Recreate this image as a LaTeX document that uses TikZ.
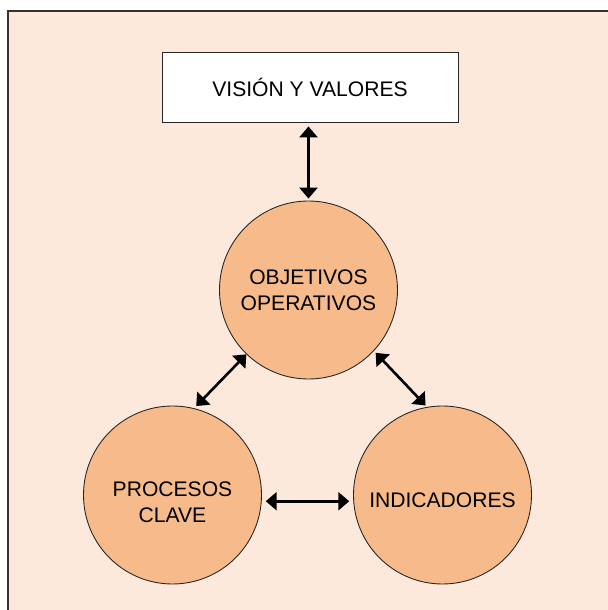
\documentclass[tikz,border=0pt]{standalone}
\usepackage{fontspec}
\setmainfont{Liberation Sans}
\usetikzlibrary{arrows.meta}

\definecolor{fondo}{RGB}{252,233,220}
\definecolor{salmon}{RGB}{247,186,138}

\tikzset{
  circ/.style={circle, draw=black!85, line width=0.5pt, fill=salmon, minimum size=3.56cm,
    inner sep=0pt, align=center, font=\fontsize{12}{15}\selectfont},
  boxnode/.style={rectangle, draw=black!85, line width=0.5pt, fill=white, minimum width=5.92cm,
    minimum height=1.4cm, font=\fontsize{12}{15}\selectfont},
  dbl/.style={{Triangle[length=0.22cm,width=0.36cm]}-{Triangle[length=0.22cm,width=0.36cm]}, line width=1.5pt},
}

\begin{document}
\begin{tikzpicture}
    \useasboundingbox (0,0) rectangle (12.16,12.2);
    % fondo del marco
    \begin{scope}
        \clip (0,0) rectangle (12.16,12.2);
        \draw [fill=fondo, draw=black!80, line width=0.6pt] (0.16,-1) rectangle (13,11.98);
    \end{scope}

    \node (vis) [boxnode] at (6.2,10.46) {VISIÓN Y VALORES};

    \node (obj) [circ] at (6.17,6.4) {OBJETIVOS\\OPERATIVOS};
    \node (proc) [circ, text height=31.5pt, text depth=0pt] at (3.45,2.3) {PROCESOS\\CLAVE};
    \node (ind) [circ, text height=13.7pt, text depth=0pt] at (8.85,2.3) {INDICADORES};

    \path [dbl]
        (vis.south -| obj.north) edge [shorten <=0.08cm, shorten >=0.04cm] (obj.north)
        (obj.226) edge [shorten >=0.06cm] (proc.76)
        (obj.-43.5) edge [shorten <=0.05cm, shorten >=0.04cm] (ind.100)
        (proc.-4) edge [shorten <=0.08cm, shorten >=0.08cm] (ind.184)
    ;
\end{tikzpicture}
\end{document}
